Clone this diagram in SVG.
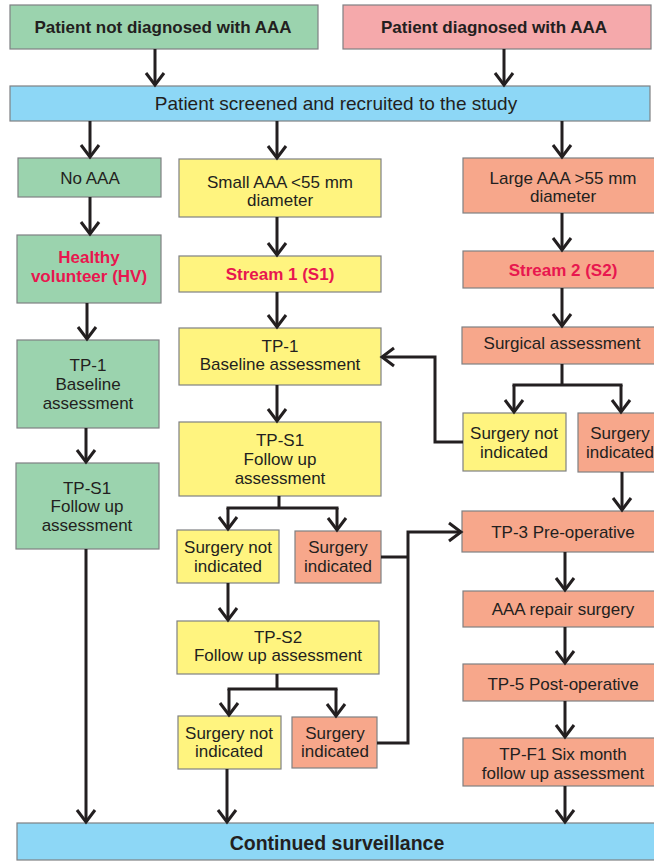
<svg xmlns="http://www.w3.org/2000/svg" width="654" height="861" viewBox="0 0 654 861">
<style>
.box{stroke:#7f8083;stroke-width:1.2}
.g{fill:#9bd3ae}.p{fill:#f5a9ab}.b{fill:#8dd7f6}.y{fill:#fff47f}.s{fill:#f7a78b}
text{font-family:"Liberation Sans",Arial,sans-serif;fill:#231f20;text-anchor:middle;font-size:17px}
.bold{font-weight:bold}
.red{fill:#e8174f;font-weight:bold}
.c{fill:none;stroke:#231f20;stroke-width:3;stroke-linejoin:miter}
.a{marker-end:url(#arr)}
</style>
<defs>
<marker id="arr" markerUnits="userSpaceOnUse" markerWidth="30" markerHeight="30" refX="0" refY="0" orient="auto" overflow="visible" viewBox="-15 -15 30 30">
<path d="M-12,-9 L0,0 L-12,9" fill="none" stroke="#231f20" stroke-width="3"/>
</marker>
</defs>

<g id="not-diagnosed"><rect class="box g" x="10" y="5" width="308" height="44"/><text class="bold" x="163" y="33">Patient not diagnosed with AAA</text></g>
<g id="diagnosed"><rect class="box p" x="343" y="5" width="308" height="44"/><text class="bold" x="494" y="33">Patient diagnosed with AAA</text></g>
<g id="screened"><rect class="box b" x="10" y="86" width="640" height="35"/><text x="336" y="110" style="font-size:19px">Patient screened and recruited to the study</text></g>

<g id="no-aaa"><rect class="box g" x="18" y="158" width="143" height="39"/><text x="90" y="184">No AAA</text></g>
<g id="hv"><rect class="box g" x="17" y="235" width="144" height="68"/><text class="red" x="89" y="263">Healthy</text><text class="red" x="89" y="282">volunteer (HV)</text></g>
<g id="tp1-hv"><rect class="box g" x="17" y="340" width="142" height="88"/><text x="88" y="371">TP-1</text><text x="88" y="390">Baseline</text><text x="88" y="409">assessment</text></g>
<g id="tps1-hv"><rect class="box g" x="16" y="463" width="143" height="86"/><text x="87" y="494">TP-S1</text><text x="87" y="512">Follow up</text><text x="87" y="531">assessment</text></g>

<g id="small-aaa"><rect class="box y" x="179" y="159" width="202" height="58"/><text x="280" y="188">Small AAA &lt;55 mm</text><text x="280" y="206">diameter</text></g>
<g id="stream1"><rect class="box y" x="179" y="256" width="202" height="36"/><text class="red" x="280" y="280">Stream 1 (S1)</text></g>
<g id="tp1-s1"><rect class="box y" x="179" y="328" width="202" height="57"/><text x="280" y="352">TP-1</text><text x="280" y="370">Baseline assessment</text></g>
<g id="tps1-s1"><rect class="box y" x="179" y="422" width="202" height="74"/><text x="280" y="446">TP-S1</text><text x="280" y="465">Follow up</text><text x="280" y="484">assessment</text></g>
<g id="sni-1"><rect class="box y" x="177" y="530" width="102" height="53"/><text x="228" y="553">Surgery not</text><text x="228" y="572">indicated</text></g>
<g id="si-1"><rect class="box s" x="295" y="531" width="86" height="52"/><text x="338" y="553">Surgery</text><text x="338" y="572">indicated</text></g>
<g id="tps2"><rect class="box y" x="177" y="621" width="202" height="53"/><text x="278" y="643">TP-S2</text><text x="278" y="661">Follow up assessment</text></g>
<g id="sni-2"><rect class="box y" x="178" y="716" width="103" height="53"/><text x="229" y="739">Surgery not</text><text x="229" y="757">indicated</text></g>
<g id="si-2"><rect class="box s" x="292" y="717" width="85" height="51"/><text x="335" y="739">Surgery</text><text x="335" y="757">indicated</text></g>

<g id="large-aaa"><rect class="box s" x="463" y="158" width="200" height="55"/><text x="563" y="184">Large AAA &gt;55 mm</text><text x="563" y="202">diameter</text></g>
<g id="stream2"><rect class="box s" x="463" y="251" width="200" height="37"/><text class="red" x="563" y="276">Stream 2 (S2)</text></g>
<g id="surgical"><rect class="box s" x="462" y="327" width="201" height="37"/><text x="562" y="349">Surgical assessment</text></g>
<g id="sni-3"><rect class="box y" x="463" y="413" width="103" height="58"/><text x="514" y="439">Surgery not</text><text x="514" y="458">indicated</text></g>
<g id="si-3"><rect class="box s" x="578" y="413" width="84" height="59"/><text x="620" y="439">Surgery</text><text x="620" y="458">indicated</text></g>
<g id="tp3"><rect class="box s" x="462" y="511" width="202" height="41"/><text x="563" y="538">TP-3 Pre-operative</text></g>
<g id="repair"><rect class="box s" x="463" y="591" width="200" height="36"/><text x="563" y="615">AAA repair surgery</text></g>
<g id="tp5"><rect class="box s" x="463" y="664" width="200" height="37"/><text x="563" y="690">TP-5 Post-operative</text></g>
<g id="tpf1"><rect class="box s" x="463" y="738" width="200" height="48"/><text x="563" y="760">TP-F1 Six month</text><text x="563" y="779">follow up assessment</text></g>

<g id="continued"><rect class="box b" x="17" y="823" width="650" height="37"/><text class="bold" x="337" y="850" style="font-size:19.5px">Continued surveillance</text></g>

<g id="connectors">
<path class="c a" d="M155,49 V85"/>
<path class="c a" d="M504,49 V85"/>
<path class="c a" d="M90,121 V157"/>
<path class="c a" d="M277,121 V158"/>
<path class="c a" d="M562,121 V157"/>
<path class="c a" d="M90,197 V234"/>
<path class="c a" d="M87,303 V339"/>
<path class="c a" d="M86,428 V462"/>
<path class="c a" d="M86,549 V822"/>
<path class="c a" d="M277,217 V255"/>
<path class="c a" d="M277,292 V327"/>
<path class="c a" d="M277,385 V421"/>
<path class="c" d="M279,496 V508 M226.5,508 H338.5"/>
<path class="c a" d="M228,508 V529"/>
<path class="c a" d="M337,508 V530"/>
<path class="c a" d="M228,583 V620"/>
<path class="c" d="M277,674 V689 M227.5,689 H337.5"/>
<path class="c a" d="M229,689 V715"/>
<path class="c a" d="M336,689 V716"/>
<path class="c a" d="M227,769 V822"/>
<path class="c a" d="M562,213 V250"/>
<path class="c a" d="M562,288 V326"/>
<path class="c" d="M562,364 V385 M512.5,385 H622.5"/>
<path class="c a" d="M514,385 V412"/>
<path class="c a" d="M621,385 V412"/>
<path class="c a" d="M463,442 H435 V357 H382"/>
<path class="c a" d="M622,472 V510"/>
<path class="c a" d="M565,552 V590"/>
<path class="c a" d="M565,627 V663"/>
<path class="c a" d="M565,701 V737"/>
<path class="c a" d="M565,786 V822"/>
<path class="c" d="M381,557 H408"/>
<path class="c a" d="M377,743 H408 V532 H461"/>
</g>
</svg>
